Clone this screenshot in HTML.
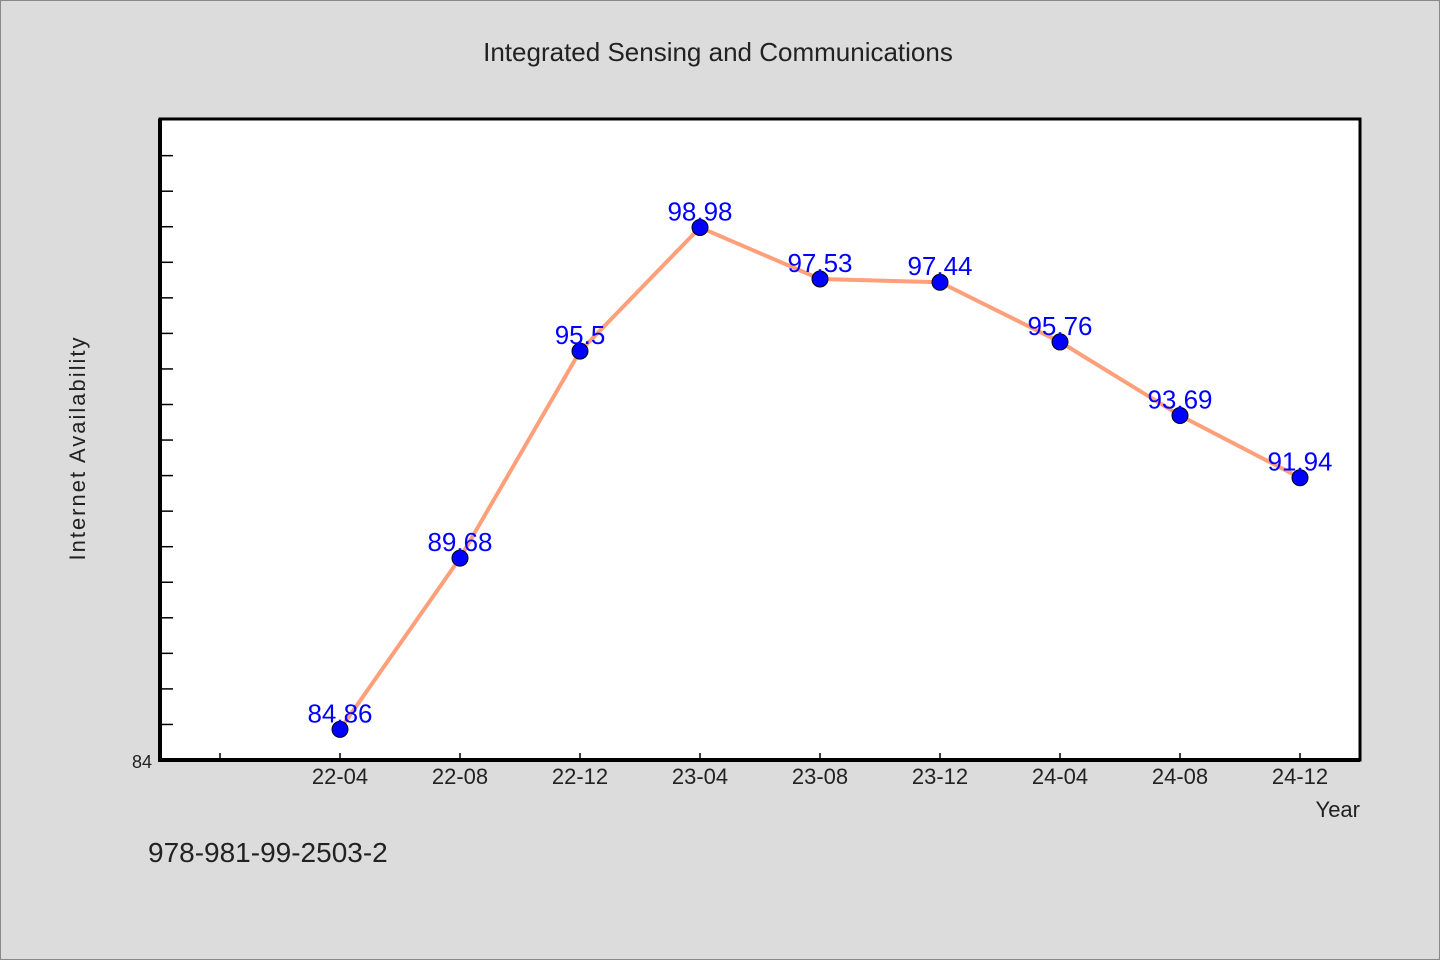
<!DOCTYPE html>
<html><head><meta charset="utf-8"><style>
body{margin:0;background:#dcdcdc;}
svg{display:block;font-family:"WenQuanYi Zen Hei","Liberation Sans",sans-serif;}
</style></head><body>
<svg width="1440" height="960">
<rect x="0.5" y="0.5" width="1439" height="959" fill="#dcdcdc" stroke="#888"/>
<text x="718" y="61" text-anchor="middle" font-size="26" fill="#222">Integrated Sensing and Communications</text>
<rect x="160" y="119" width="1200" height="641" fill="#fff" stroke="#000" stroke-width="3"/>
<g id="axes"></g>
<g id="marks"></g>
<text x="85" y="448" text-anchor="middle" font-size="22" fill="#222" letter-spacing="2" transform="rotate(-90 85 448)">Internet Availability</text>
<text x="1360" y="817" text-anchor="end" font-size="22" fill="#222">Year</text>
<text x="148" y="862" font-size="28" fill="#222">978-981-99-2503-2</text>
</svg>
<script>
const categories=["22-04","22-08","22-12","23-04","23-08","23-12","24-04","24-08","24-12"];
const values=[84.86,89.68,95.5,98.98,97.53,97.44,95.76,93.69,91.94];
const labels=["84.86","89.68","95.5","98.98","97.53","97.44","95.76","93.69","91.94"];
const yMin=84,yMax=102;
const NS="http://www.w3.org/2000/svg";
function y(v){return 760-(v-yMin)*35.55;}
function x(i){return 340+120*i;}
function mk(t,a,p){const e=document.createElementNS(NS,t);for(const k in a)e.setAttribute(k,a[k]);p.appendChild(e);return e;}
const ax=document.getElementById('axes'),mg=document.getElementById('marks');
for(let v=yMin+1;v<yMax;v++){const l=mk('line',{x1:160,x2:173,y1:y(v),y2:y(v),stroke:'#000','stroke-width':1.5},ax);

}
const yl=mk('text',{x:152,y:768,'text-anchor':'end','font-size':18,fill:'#222'},ax);yl.textContent=String(yMin);


for(let i=-1;i<categories.length;i++){const l=mk('line',{x1:x(i),x2:x(i),y1:760,y2:753,stroke:'#000','stroke-width':1.5},ax);


if(i>=0){const t=mk('text',{x:x(i),y:784,'text-anchor':'middle','font-size':22,fill:'#222'},ax);t.textContent=categories[i];

}}
const bl=mk('path',{d:'M160 119 V760 H1360',fill:'none',stroke:'#000','stroke-width':4},ax);


const pl=mk('polyline',{points:values.map((v,i)=>x(i)+','+y(v)).join(' '),fill:'none',stroke:'#ffa07a','stroke-width':4},mg);


values.forEach((v,i)=>{const c=mk('circle',{cx:x(i),cy:y(v),r:8,fill:'#0000ff',stroke:'#000','stroke-width':1},mg);


const t=mk('text',{x:x(i),y:y(v)-7,'text-anchor':'middle','font-size':26,fill:'#0000ff'},mg);t.textContent=labels[i];

});
</script>
</body></html>
